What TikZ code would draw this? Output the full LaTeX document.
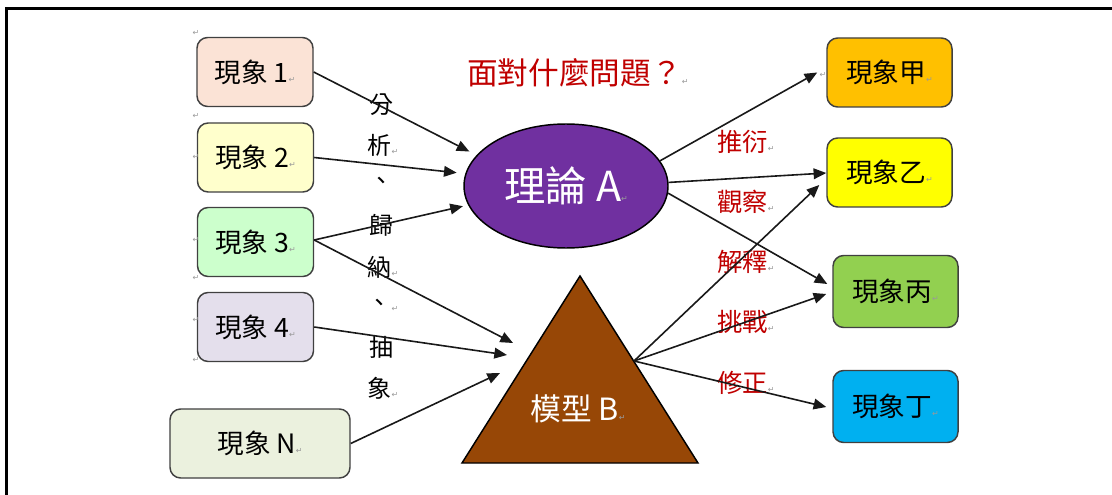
\documentclass[tikz,border=0pt]{standalone}
\usepackage{fontspec}
\usetikzlibrary{arrows.meta,calc,shapes.geometric}
\newfontfamily\cjk{Noto Sans CJK TC}
\newfontfamily\dejavu{DejaVu Sans}
\newcommand\retmark{{\dejavu\color{black!40}\fontsize{6pt}{6pt}\selectfont ↵}}
\definecolor{c1}{HTML}{FBE3D6}
\definecolor{c2}{HTML}{FFFFCC}
\definecolor{c3}{HTML}{CCFFCC}
\definecolor{c4}{HTML}{E4DFEC}
\definecolor{cN}{HTML}{EBF1DE}
\definecolor{cjia}{HTML}{FFC000}
\definecolor{cyi}{HTML}{FFFF00}
\definecolor{cbing}{HTML}{92D050}
\definecolor{cding}{HTML}{00B0F0}
\definecolor{theory}{HTML}{7030A0}
\definecolor{model}{HTML}{974706}
\definecolor{redtxt}{HTML}{C00000}
\begin{document}
\begin{tikzpicture}[x=0.75pt,y=-0.75pt,
  box/.style={draw=black!75, line width=1.1pt, rounded corners=8pt, minimum width=87pt,
    minimum height=51.75pt, inner sep=0pt, font=\cjk\fontsize{20}{20}\selectfont},
  arr/.style={-{Triangle[length=9.5pt,width=8pt]}, line width=1.2pt, black!90},
  vlab/.style={font=\cjk\fontsize{18}{18}\selectfont, inner sep=0pt},
  rlab/.style={font=\cjk\fontsize{19}{19}\selectfont, text=redtxt, inner sep=0pt},
  pmark/.style={inner sep=0pt}]
\useasboundingbox (0,0) rectangle (1112,495);
\fill[white] (0,0) rectangle (1112,495);
\draw[line width=2.25pt] (6.5,495) -- (6.5,9) -- (1112,9);

% left boxes
\node[box, fill=c1] (b1) at (255,72) {現象 1\retmark};
\node[box, fill=c2] (b2) at (255.5,157.5) {現象 2\retmark};
\node[box, fill=c3] (b3) at (255.5,242) {現象 3\retmark};
\node[box, fill=c4] (b4) at (255.5,327) {現象 4\retmark};
\node[box, fill=cN, minimum width=135pt] (bN) at (260,443.5) {現象 N\retmark};

% right boxes
\node[box, fill=cjia, minimum width=93.75pt] (r1) at (889.5,72.5) {現象甲\retmark};
\node[box, fill=cyi, minimum width=93.75pt] (r2) at (889.5,172.5) {現象乙\retmark};
\node[box, fill=cbing, minimum width=93.75pt, minimum height=54pt] (r3) at (895.5,291.5) {現象丙\retmark};
\node[box, fill=cding, minimum width=93.75pt, minimum height=54pt] (r4) at (895.5,406.5) {現象丁\retmark};

% theory ellipse
\node[ellipse, draw=black, line width=1.1pt, fill=theory, minimum width=153pt, minimum height=93pt,
  inner sep=0pt, text=white, font=\cjk\fontsize{31}{31}\selectfont] (A) at (566,186) {理論 A\retmark};

% model triangle
\coordinate (Btop) at (580,276);
\coordinate (Bl) at (462,463);
\coordinate (Br) at (698,463);
\fill[model] (Btop) -- (Bl) -- (Br) -- cycle;
\draw[line width=1.1pt, line join=miter] (Btop) -- (Bl) -- (Br) -- cycle;
\node[text=white, font=\cjk\fontsize{23}{23}\selectfont, inner sep=0pt] (B) at (578,409) {模型 B\retmark};
\coordinate (Bout) at (634,361);
\coordinate (Bt1) at (513,343);
\coordinate (Bt2) at (507,355);
\coordinate (Bt3) at (500,373);

% title
\node[font=\cjk\fontsize{23}{23}\selectfont, text=redtxt, inner sep=0pt] (title) at (578,73) {面對什麼問題？\retmark};

% vertical labels
\node[vlab] (v1) at (381,105) {分};
\node[vlab] (v2) at (383,145) {析\retmark};
\node[vlab] (v3) at (381,183) {、};
\node[vlab] (v4) at (381,225) {歸};
\node[vlab] (v5) at (383,267) {納\retmark};
\node[vlab] (v6) at (383,305) {、\retmark};
\node[vlab] (v7) at (381,347) {抽};
\node[vlab] (v8) at (383,388) {象\retmark};

% red labels
\node[rlab] (l1) at (746,142) {推衍\retmark};
\node[rlab] (l2) at (746,202) {觀察\retmark};
\node[rlab] (l3) at (746,262) {解釋\retmark};
\node[rlab] (l4) at (746,322) {挑戰\retmark};
\node[rlab] (l5) at (746,383) {修正\retmark};

% stray paragraph marks
\node[pmark] (m1) at (196,33) {\retmark};
\node[pmark] (m2) at (196,116) {\retmark};
\node[pmark] (m3) at (196,157) {\retmark};
\node[pmark] (m4) at (196,240) {\retmark};
\node[pmark] (m5) at (196,278) {\retmark};
\node[pmark] (m6) at (196,320) {\retmark};
\node[pmark] (m7) at (196,360) {\retmark};
\node[pmark] (m8) at (823,75) {\retmark};

% left arrows
\draw[arr, shorten >=6pt] (b1.east) -- (A.161);
\draw[arr, shorten >=6.5pt] (b2.east) -- (A.173);
\draw[arr, shorten >=4pt] ($(b3.east)+(0,-2)$) -- (A.191.6);
\draw[arr] ($(b3.east)+(0,-2)$) -- (Bt1);
\draw[arr] (b4.east) -- (Bt2);
\draw[arr] (bN.east) -- (Bt3);

% right arrows
\draw[arr] (A.15) -- ($(r1.west)+(-9,0)$);
\draw[arr] (A.2) -- ($(r2.west)+(0,0.5)$);
\draw[arr] (A.356) -- ($(r3.west)+(-5,-7.5)$);
\draw[arr] (Bout) -- ($(r2.west)+(-7,12.5)$);
\draw[arr] (Bout) -- ($(r3.west)+(-6,2.5)$);
\draw[arr] (Bout) -- ($(r4.west)+(-6,0.5)$);
\end{tikzpicture}
\end{document}
